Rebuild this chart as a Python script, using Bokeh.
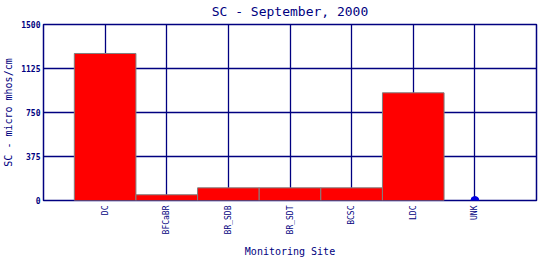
import math
from bokeh.plotting import figure
from bokeh.models import Range1d, FactorRange, FixedTicker, ColumnDataSource
from bokeh.embed import file_html
from bokeh.resources import INLINE

title_text = "SC - September, 2000"
sites = ["DC", "BFCaBR", "BR_SDB", "BR_SDT", "BCSC", "LDC", "UNK"]
sc_values = [1253, 49, 108, 108, 108, 918, float("nan")]  # UNK: no data
missing_sites = ["UNK"]
missing_values = [0]
y_ticks = [0, 375, 750, 1125, 1500]

NAVY = "#000080"
FONT = "DejaVu Sans Mono"

p = figure(
    width=540, height=260,
    x_range=FactorRange(factors=sites, range_padding=0.5, range_padding_units="absolute"),
    y_range=Range1d(0, 1500),
    output_backend="svg", toolbar_location=None,
    title=title_text,
    min_border_left=43, min_border_right=4, min_border_top=24, min_border_bottom=60,
)

src = ColumnDataSource(dict(site=sites, val=sc_values))
p.vbar(x="site", top="val", width=1.0, source=src,
       fill_color="#ff0000", line_color="#808080", line_width=1)
p.scatter(x=missing_sites, y=missing_values, size=8, color="#0000e0")

p.title.align = "center"
p.title.vertical_align = "top"
p.title.text_font = FONT
p.title.text_font_size = "13px"
p.title.text_font_style = "normal"
p.title.text_color = NAVY
p.title.offset = 0
p.title.standoff = 7

p.outline_line_color = NAVY
p.outline_line_width = 1.5
p.background_fill_color = "white"
p.border_fill_color = "white"

for g in (p.xgrid, p.ygrid):
    g.grid_line_color = NAVY
    g.grid_line_width = 1.3
p.ygrid.ticker = FixedTicker(ticks=y_ticks)

p.yaxis.ticker = FixedTicker(ticks=y_ticks)
p.yaxis.axis_label = "SC - micro mhos/cm"
p.xaxis.axis_label = "Monitoring Site"
p.xaxis.major_label_orientation = math.pi / 2

for ax in (p.xaxis, p.yaxis):
    ax.axis_line_color = None
    ax.major_tick_line_color = None
    ax.minor_tick_line_color = None
    ax.major_tick_out = 0
    ax.major_tick_in = 0
    ax.major_label_text_font = FONT
    ax.major_label_text_color = NAVY
    ax.axis_label_text_font = FONT
    ax.axis_label_text_font_style = "normal"
    ax.axis_label_text_color = NAVY
    ax.axis_label_text_font_size = "10px"

p.yaxis.major_label_text_font_size = "8px"
p.yaxis.major_label_text_font_style = "bold"
p.yaxis.major_label_standoff = 3
p.yaxis.axis_label_standoff = 4
p.xaxis.major_label_text_font_size = "8px"
p.xaxis.major_label_standoff = 5
p.xaxis.axis_label_standoff = 9

open("out.html", "w").write(file_html(p, INLINE))
